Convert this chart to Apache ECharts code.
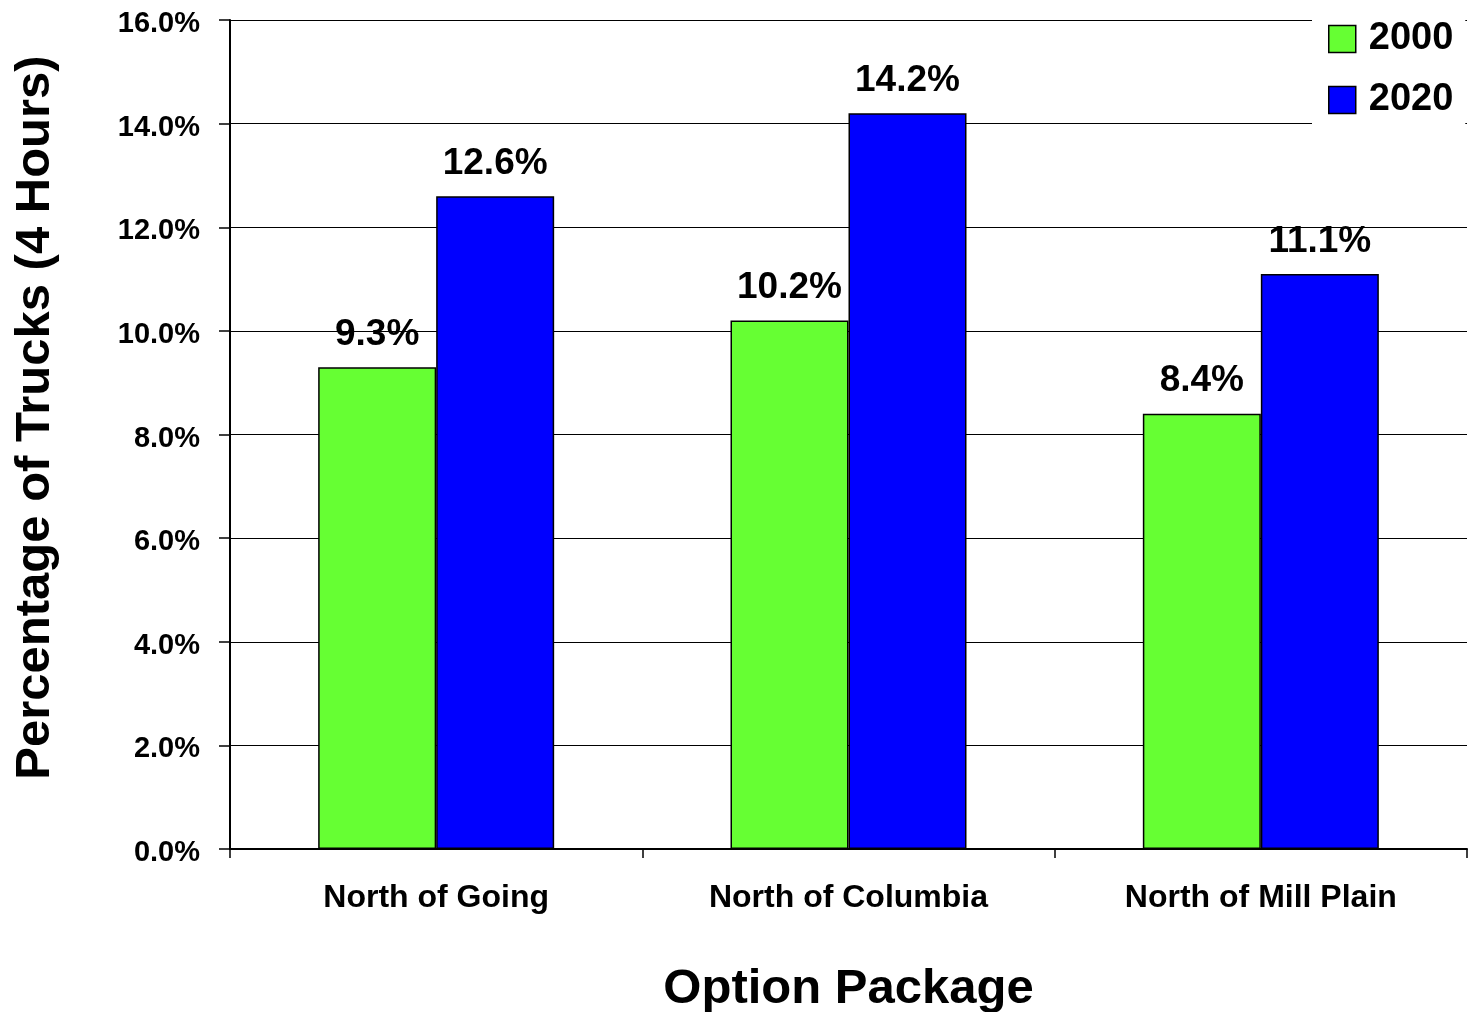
<!DOCTYPE html>
<html>
<head>
<meta charset="utf-8">
<title>Percentage of Trucks (4 Hours)</title>
<script src="https://cdn.jsdelivr.net/npm/echarts@6/dist/echarts.min.js"></script>
<style>
  html, body { margin: 0; padding: 0; background: #fff; }
  #chart { width: 1473px; height: 1012px; }
</style>
</head>
<body>
<div id="chart"></div>
<script>
// Truck share of traffic over four peak hours, by option package
const categories = ['North of Going', 'North of Columbia', 'North of Mill Plain'];
const seriesNames = ['2000', '2020'];
const values2000 = [9.3, 10.2, 8.4];
const values2020 = [12.6, 14.2, 11.1];
const yTicks = { min: 0, max: 16, interval: 2 };

const FONT = "'Liberation Sans', Arial, Helvetica, sans-serif";

const chart = echarts.init(document.getElementById('chart'), null, { renderer: 'canvas' });

const barLabel = {
  show: true,
  position: 'top',
  distance: 14,
  color: '#000',
  fontFamily: FONT,
  fontWeight: 'bold',
  fontSize: 37,
  formatter: p => p.value.toFixed(1) + '%'
};

chart.setOption({
  animation: false,
  backgroundColor: '#fff',
  grid: {
    left: 230, right: 6, top: 20, bottom: 163,
    containLabel: false,
    outerBoundsMode: 'none'
  },
  legend: {
    orient: 'vertical',
    left: 1312,
    top: 8,
    padding: [12, 12, 14, 16],
    backgroundColor: '#fff',
    itemWidth: 27,
    itemHeight: 27,
    itemGap: 23,
    icon: 'rect',
    data: seriesNames,
    textStyle: {
      color: '#000',
      fontFamily: FONT,
      fontWeight: 'bold',
      fontSize: 38,
      padding: [0, 0, 0, 8]
    },
    itemStyle: { borderColor: '#000', borderWidth: 1.5 }
  },
  xAxis: {
    type: 'category',
    data: categories,
    name: 'Option Package',
    nameLocation: 'middle',
    nameGap: 116,
    nameTextStyle: { color: '#000', fontFamily: FONT, fontWeight: 'bold', fontSize: 49 },
    axisLine: { lineStyle: { color: '#000', width: 2 } },
    axisTick: { show: true, length: 9, lineStyle: { color: '#000', width: 1.5 } },
    axisLabel: { color: '#000', fontFamily: FONT, fontWeight: 'bold', fontSize: 32, margin: 33 },
    splitLine: { show: false }
  },
  yAxis: {
    type: 'value',
    min: yTicks.min,
    max: yTicks.max,
    interval: yTicks.interval,
    name: 'Percentage of Trucks (4 Hours)',
    nameLocation: 'middle',
    nameRotate: 90,
    nameGap: 170,
    nameTextStyle: {
      color: '#000', fontFamily: FONT, fontWeight: 'bold', fontSize: 49,
      padding: [0, 0, 0, 34]
    },
    axisLine: { show: true, lineStyle: { color: '#000', width: 2 } },
    axisTick: { show: true, length: 11, lineStyle: { color: '#000', width: 1.5 } },
    axisLabel: {
      color: '#000', fontFamily: FONT, fontWeight: 'bold', fontSize: 29, margin: 30,
      verticalAlign: 'top',
      lineHeight: 8,
      formatter: v => v.toFixed(1) + '%'
    },
    splitLine: { show: true, lineStyle: { color: '#000', width: 1.2 } }
  },
  series: [
    {
      name: seriesNames[0],
      type: 'bar',
      data: values2000,
      barWidth: 118,
      barGap: '0%',
      itemStyle: { color: '#66FF33', borderColor: '#000', borderWidth: 1.5 },
      label: barLabel
    },
    {
      name: seriesNames[1],
      type: 'bar',
      data: values2020,
      barWidth: 118,
      barGap: '0%',
      itemStyle: { color: '#0000FF', borderColor: '#000', borderWidth: 1.5 },
      label: barLabel
    }
  ]
});
</script>
</body>
</html>
